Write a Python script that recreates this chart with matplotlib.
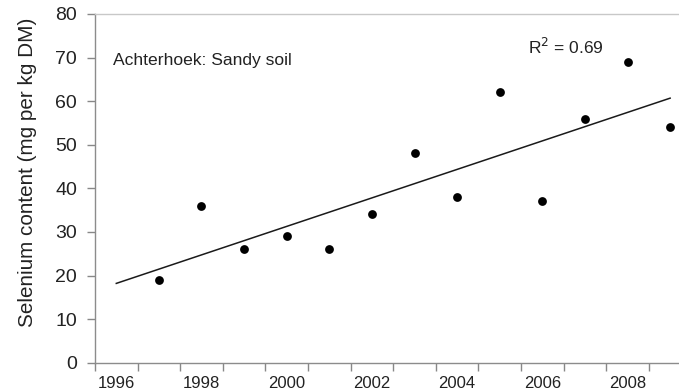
import matplotlib
matplotlib.use("Agg")
import matplotlib.pyplot as plt
import numpy as np

plt.rcParams["font.family"] = ["Liberation Sans", "DejaVu Sans"]

# Selenium content per year, Achterhoek sandy soil
years = [1997, 1998, 1999, 2000, 2001, 2002, 2003, 2004, 2005, 2006, 2007, 2008, 2009]
selenium = [19, 36, 26, 29, 26, 34, 48, 38, 62, 37, 56, 69, 54]
tick_years = [1996, 1998, 2000, 2002, 2004, 2006, 2008]
y_ticks = [0, 10, 20, 30, 40, 50, 60, 70, 80]
r_squared = 0.69

fig = plt.figure(figsize=(6.79, 3.91), dpi=100)
# axes runs a little past the right edge of the canvas
ax = fig.add_axes([0.1399, 0.0724, 0.8784, 0.8918])

ax.scatter(years, selenium, s=40, color="black", zorder=3, linewidths=0)

# linear trend, extended back one year
slope, icpt = np.polyfit(years, selenium, 1)
tx = np.array([1996, 2009])
ax.plot(tx, slope * tx + icpt, color="#1a1a1a", linewidth=1.1, zorder=2)

ax.set_xlim(1995.5, 2009.5)
ax.set_ylim(0, 80)
# tick marks sit between years, labels centred on the year
ax.set_xticks(np.arange(1995.5, 2010, 1.0))
ax.set_xticklabels([])
ax.set_xticks(tick_years, minor=True)
ax.set_xticklabels([str(y) for y in tick_years], minor=True)
ax.tick_params(axis="x", which="minor", length=0, pad=9.5, labelsize=12, labelcolor="#222222")
ax.tick_params(axis="x", which="major", length=6, width=1, color="#888888", direction="out")
ax.set_yticks(y_ticks)
ax.tick_params(axis="y", length=6, width=1, color="#888888", labelsize=14, labelcolor="#222222", pad=7)

for side in ["left", "bottom", "top", "right"]:
    ax.spines[side].set_color("#8c8c8c")
    ax.spines[side].set_linewidth(1.0)
ax.spines["top"].set_color("#c8c8c8")

ax.set_ylabel("Selenium content (mg per kg DM)", fontsize=14.9, color="#222222")
ax.yaxis.set_label_coords(-0.097, 0.545)

ax.text(1995.92, 69.3, "Achterhoek: Sandy soil", fontsize=12.6, color="#222222", va="center")
ax.text(2005.66, 72.5, f"R$^2$ = {r_squared:.2f}", fontsize=12.5, color="#222222", va="center")

fig.savefig("out.png", dpi=100)
